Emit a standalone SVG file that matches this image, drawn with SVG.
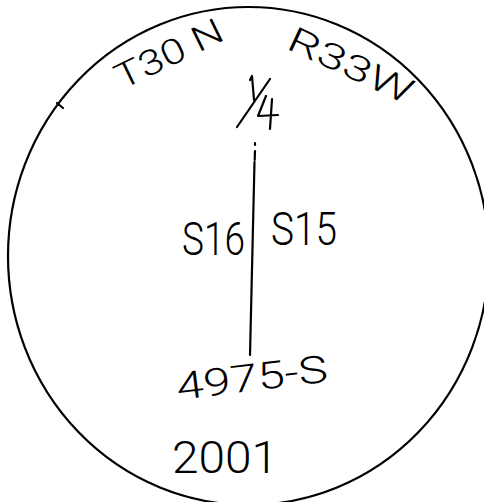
<svg xmlns="http://www.w3.org/2000/svg" width="484" height="502" viewBox="0 0 484 502">
<style>
.ln{fill:none;stroke:#000;stroke-width:2.2;stroke-linecap:round;stroke-linejoin:round}
.t{font-family:"Roboto","Liberation Sans","DejaVu Sans",sans-serif;fill:#000;font-weight:300}
</style>
<rect width="484" height="502" fill="#fff"/>
<g id="circle">
<ellipse class="ln" cx="248.5" cy="256" rx="240.5" ry="249"/>
<line class="ln" x1="57" y1="103" x2="63" y2="108" stroke-width="1.5"/>
</g>
<g id="connectors">
<line class="ln" x1="255" y1="143" x2="255" y2="145"/>
<line class="ln" x1="255" y1="151" x2="254.7" y2="160"/>
<line class="ln" x1="254.5" y1="162" x2="250" y2="355"/>
</g>
<g id="township">
<text class="t" font-size="35" transform="translate(122,90) rotate(-26)" textLength="116" lengthAdjust="spacingAndGlyphs">T30 N</text>
</g>
<g id="range">
<text class="t" font-size="35" transform="translate(285,48) rotate(25)" textLength="134" lengthAdjust="spacingAndGlyphs">R33W</text>
</g>
<g id="quarter">
<path class="ln" d="M250 80 L252 76 L254 100"/>
<line class="ln" x1="237" y1="127" x2="270" y2="79"/>
<path class="ln" d="M266 96 L258 116 L278 115 M272 99 L270 129"/>
</g>
<g id="sections">
<text class="t" font-size="46" x="182" y="255" textLength="63" lengthAdjust="spacingAndGlyphs">S16</text>
<text class="t" font-size="46" x="271" y="245" textLength="66" lengthAdjust="spacingAndGlyphs">S15</text>
</g>
<g id="number">
<text class="t" font-size="38" transform="translate(178,400) rotate(-7)" textLength="152" lengthAdjust="spacingAndGlyphs">4975-S</text>
</g>
<g id="year">
<text class="t" font-size="44" x="172" y="473" textLength="106" lengthAdjust="spacingAndGlyphs">2001</text>
</g>
</svg>
